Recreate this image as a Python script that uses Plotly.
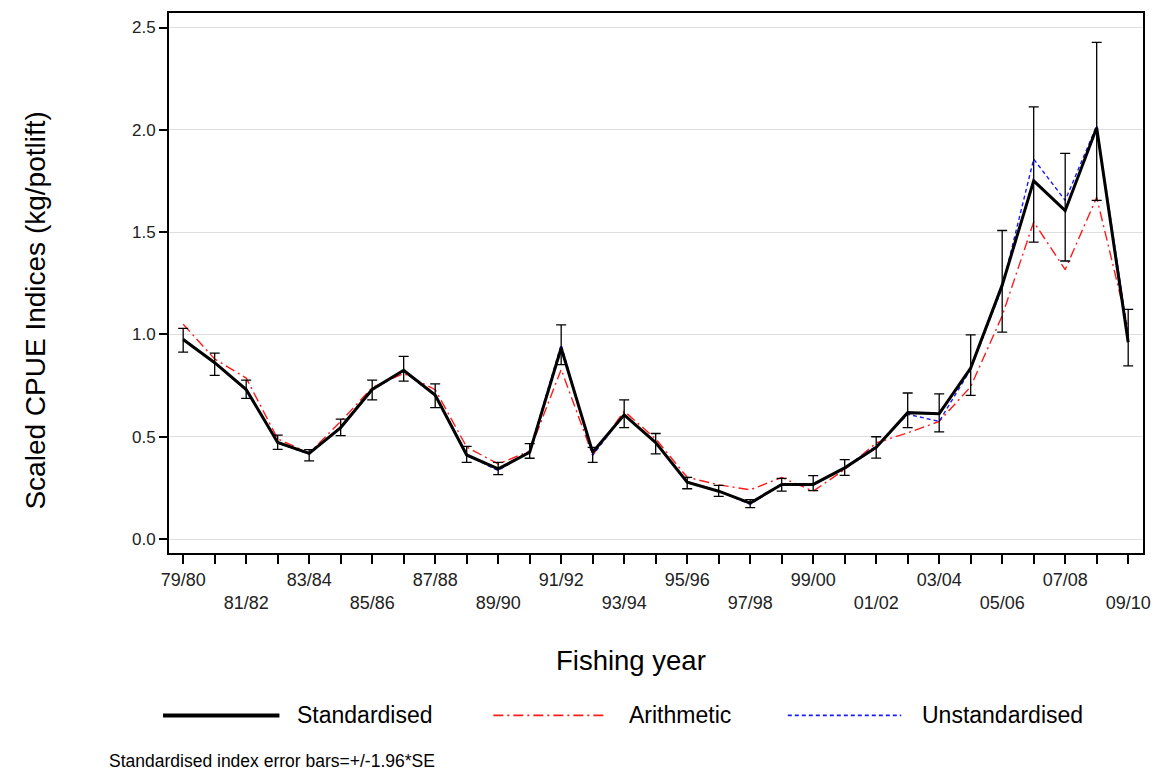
import plotly.graph_objects as go

# ---------------- data ----------------
years = ["79/80", "80/81", "81/82", "82/83", "83/84", "84/85", "85/86", "86/87",
         "87/88", "88/89", "89/90", "90/91", "91/92", "92/93", "93/94", "94/95",
         "95/96", "96/97", "97/98", "98/99", "99/00", "00/01", "01/02", "02/03",
         "03/04", "04/05", "05/06", "06/07", "07/08", "08/09", "09/10"]

standardised = [0.975, 0.862, 0.731, 0.472, 0.419, 0.545, 0.731, 0.825,
                0.704, 0.411, 0.343, 0.424, 0.934, 0.424, 0.607, 0.472,
                0.278, 0.234, 0.176, 0.267, 0.267, 0.348, 0.448, 0.618,
                0.613, 0.836, 1.241, 1.751, 1.605, 2.010, 0.962]

std_upper = [1.030, 0.909, 0.777, 0.508, 0.437, 0.586, 0.777, 0.893,
             0.759, 0.453, 0.375, 0.467, 1.047, 0.448, 0.680, 0.516,
             0.302, 0.262, 0.193, 0.297, 0.310, 0.388, 0.500, 0.714,
             0.710, 0.998, 1.508, 2.112, 1.885, 2.427, 1.123]

std_lower = [0.914, 0.800, 0.688, 0.438, 0.382, 0.506, 0.680, 0.772,
             0.642, 0.375, 0.315, 0.395, 0.853, 0.375, 0.545, 0.416,
             0.246, 0.209, 0.154, 0.234, 0.237, 0.311, 0.396, 0.545,
             0.524, 0.702, 1.011, 1.451, 1.359, 1.655, 0.846]

arithmetic = [1.050, 0.880, 0.787, 0.490, 0.420, 0.575, 0.740, 0.810,
              0.730, 0.450, 0.367, 0.430, 0.829, 0.410, 0.625, 0.490,
              0.302, 0.265, 0.241, 0.301, 0.234, 0.340, 0.470, 0.519,
              0.575, 0.745, 1.091, 1.550, 1.317, 1.670, 1.030]

unstandardised = [0.980, 0.860, 0.730, 0.470, 0.415, 0.550, 0.730, 0.820,
                  0.700, 0.410, 0.335, 0.430, 0.950, 0.410, 0.610, 0.470,
                  0.280, 0.235, 0.170, 0.270, 0.265, 0.350, 0.455, 0.610,
                  0.575, 0.830, 1.230, 1.857, 1.655, 2.020, 0.990]

y_ticks = [0.0, 0.5, 1.0, 1.5, 2.0, 2.5]

# ---------------- layout helpers ----------------
W, H = 1162, 775
ML, MR, MT, MB = 169, 14, 11, 222
FONT = "Liberation Sans, Arial, sans-serif"


def px_x(x):
    return (x - ML) / (W - ML - MR)


def px_y(y):
    return (H - MB - y) / (H - MT - MB)


# staggered tick labels (upper row / lower row / unlabeled minor)
tick_text = []
for i, yr in enumerate(years):
    if i % 4 == 0:
        tick_text.append(yr)
    elif i % 4 == 2:
        tick_text.append("\u00a0<br>" + yr)
    else:
        tick_text.append("")

err_plus = [u - v for u, v in zip(std_upper, standardised)]
err_minus = [v - l for v, l in zip(standardised, std_lower)]

RED = "#ff1a1a"
BLUE = "#1a1aff"
RED_DASH = "10px,4px,2px,4px"
BLUE_DASH = "4px,3px"

fig = go.Figure()

fig.add_trace(go.Scatter(
    x=years, y=arithmetic, mode="lines", name="Arithmetic",
    line=dict(color=RED, width=1.4, dash=RED_DASH), showlegend=False))

fig.add_trace(go.Scatter(
    x=years, y=unstandardised, mode="lines", name="Unstandardised",
    line=dict(color=BLUE, width=1.4, dash=BLUE_DASH), showlegend=False))

fig.add_trace(go.Scatter(
    x=years, y=standardised, mode="lines", name="Standardised",
    line=dict(color="black", width=3),
    error_y=dict(type="data", symmetric=False, array=err_plus,
                 arrayminus=err_minus, color="black", thickness=1.3, width=5),
    showlegend=False))

# manual legend (long line samples as in the reference)
legend_items = [
    ("Standardised", dict(color="black", width=4), 163, 280, 296),
    ("Arithmetic", dict(color=RED, width=1.6, dash=RED_DASH), 495, 609, 629),
    ("Unstandardised", dict(color=BLUE, width=1.6, dash=BLUE_DASH), 791, 905, 924),
]
shapes = []
annotations = []
LEG_Y = 716
for name, ln, x0, x1, xt in legend_items:
    shapes.append(dict(type="line", xref="paper", yref="paper",
                       x0=px_x(x0), x1=px_x(x1), y0=px_y(LEG_Y), y1=px_y(LEG_Y),
                       line=ln))
    annotations.append(dict(text=name, xref="paper", yref="paper",
                            x=px_x(xt), y=px_y(LEG_Y), xanchor="left", yanchor="middle",
                            showarrow=False, font=dict(family=FONT, size=23, color="black")))

annotations.append(dict(text="Fishing year", xref="paper", yref="paper",
                        x=px_x(633), y=px_y(661), xanchor="center", yanchor="middle",
                        showarrow=False, font=dict(family=FONT, size=27.5, color="black")))
annotations.append(dict(text="Scaled CPUE Indices (kg/potlift)", xref="paper", yref="paper",
                        x=px_x(35), y=px_y(310), xanchor="center", yanchor="middle",
                        textangle=-90, showarrow=False,
                        font=dict(family=FONT, size=28, color="black")))
annotations.append(dict(text="Standardised index error bars=+/-1.96*SE", xref="paper", yref="paper",
                        x=px_x(107), y=px_y(762), xanchor="left", yanchor="middle",
                        showarrow=False, font=dict(family=FONT, size=17.5, color="black")))

fig.update_layout(
    width=W, height=H,
    margin=dict(l=ML, r=MR, t=MT, b=MB),
    paper_bgcolor="white", plot_bgcolor="white",
    font=dict(family=FONT, color="#222222"),
    showlegend=False,
    shapes=shapes,
    annotations=annotations,
)

fig.update_xaxes(
    type="category", range=[-0.45, 30.47],
    tickmode="array", tickvals=years, ticktext=tick_text, tickangle=0,
    ticks="outside", ticklen=9, tickwidth=1.5, tickcolor="black",
    tickfont=dict(family=FONT, size=18, color="#222222"),
    showline=True, linewidth=2, linecolor="black", mirror=True,
    showgrid=False, zeroline=False,
)

fig.update_yaxes(
    range=[-0.068, 2.571],
    tickmode="array", tickvals=y_ticks, ticktext=[f"{v:.1f}" for v in y_ticks],
    ticks="outside", ticklen=8, tickwidth=1.5, tickcolor="black",
    tickfont=dict(family=FONT, size=17, color="#222222"),
    showline=True, linewidth=2, linecolor="black", mirror=True,
    showgrid=True, gridcolor="#dedede", gridwidth=1, zeroline=False,
)

fig.write_html("out.html")
